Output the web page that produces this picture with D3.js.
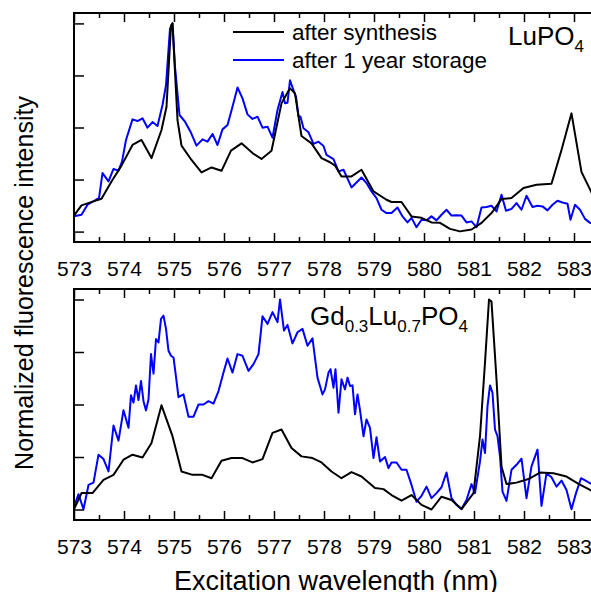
<!DOCTYPE html>
<html>
<head>
<meta charset="utf-8">
<script src="https://cdn.jsdelivr.net/npm/d3@7"></script>
<style>
  body { margin: 0; background: #fff; }
  svg { display: block; font-family: "Liberation Sans", Arial, sans-serif; }
</style>
</head>
<body>
<div class="container"></div>
<script>
// LuPO4, after synthesis (black)
const topSynthX = [573.0, 573.15, 573.39, 573.55, 573.75, 573.95, 574.17, 574.35, 574.55, 574.75, 574.85, 574.94, 574.97, 575.07, 575.15, 575.35, 575.55, 575.75, 575.95, 576.14, 576.35, 576.57, 576.75, 576.95, 577.15, 577.32, 577.42, 577.55, 577.75, 577.95, 578.12, 578.22, 578.35, 578.55, 578.75, 578.99, 579.25, 579.35, 579.55, 579.75, 579.95, 580.15, 580.32, 580.52, 580.72, 580.95, 581.15, 581.35, 581.55, 581.75, 581.99, 582.25, 582.55, 582.75, 582.95, 583.15, 583.34, 583.5];
const topSynthY = [0.077, 0.126, 0.145, 0.158, 0.241, 0.317, 0.416, 0.440, 0.353, 0.488, 0.600, 0.990, 1.0, 0.536, 0.413, 0.344, 0.284, 0.308, 0.292, 0.389, 0.424, 0.377, 0.349, 0.388, 0.616, 0.688, 0.664, 0.459, 0.424, 0.353, 0.333, 0.317, 0.265, 0.265, 0.297, 0.193, 0.153, 0.142, 0.142, 0.073, 0.066, 0.044, 0.042, 0.013, 0.001, 0.010, 0.042, 0.089, 0.156, 0.161, 0.209, 0.225, 0.230, 0.392, 0.568, 0.286, 0.193, 0.12];

// LuPO4, after 1 year storage (blue)
const topStoreX = [573.0, 573.15, 573.27, 573.44, 573.5, 573.57, 573.69, 573.79, 573.89, 573.96, 574.04, 574.17, 574.27, 574.37, 574.47, 574.57, 574.67, 574.77, 574.84, 574.92, 574.97, 575.02, 575.11, 575.22, 575.33, 575.45, 575.57, 575.67, 575.77, 575.87, 575.97, 576.07, 576.17, 576.27, 576.37, 576.47, 576.57, 576.67, 576.77, 576.87, 576.97, 577.07, 577.17, 577.22, 577.27, 577.32, 577.39, 577.44, 577.49, 577.53, 577.59, 577.69, 577.79, 577.89, 577.99, 578.05, 578.19, 578.29, 578.39, 578.55, 578.75, 578.85, 578.95, 579.05, 579.15, 579.25, 579.35, 579.47, 579.57, 579.67, 579.75, 579.85, 579.95, 580.05, 580.15, 580.25, 580.35, 580.45, 580.55, 580.65, 580.75, 580.85, 580.95, 581.05, 581.15, 581.25, 581.35, 581.45, 581.55, 581.64, 581.75, 581.85, 581.95, 582.05, 582.17, 582.27, 582.37, 582.47, 582.57, 582.67, 582.77, 582.87, 582.93, 583.02, 583.12, 583.22, 583.32, 583.5];
const topStoreY = [0.073, 0.081, 0.129, 0.153, 0.161, 0.281, 0.241, 0.301, 0.293, 0.336, 0.440, 0.539, 0.531, 0.544, 0.499, 0.526, 0.507, 0.608, 0.703, 0.975, 1.0, 0.791, 0.560, 0.528, 0.480, 0.413, 0.443, 0.432, 0.469, 0.416, 0.491, 0.512, 0.600, 0.692, 0.640, 0.563, 0.541, 0.552, 0.499, 0.504, 0.451, 0.584, 0.671, 0.616, 0.619, 0.727, 0.679, 0.647, 0.555, 0.552, 0.496, 0.477, 0.421, 0.432, 0.411, 0.368, 0.348, 0.289, 0.297, 0.212, 0.260, 0.233, 0.193, 0.161, 0.105, 0.089, 0.089, 0.116, 0.073, 0.044, 0.066, 0.021, 0.057, 0.054, 0.073, 0.054, 0.081, 0.105, 0.077, 0.078, 0.077, 0.044, 0.049, 0.021, 0.116, 0.118, 0.124, 0.097, 0.177, 0.100, 0.109, 0.137, 0.105, 0.172, 0.118, 0.124, 0.121, 0.102, 0.129, 0.148, 0.140, 0.134, 0.057, 0.129, 0.105, 0.061, 0.042, 0.04];

// Gd0.3Lu0.7PO4, after synthesis (black)
const botSynthX = [573.0, 573.15, 573.37, 573.59, 573.79, 573.99, 574.17, 574.37, 574.55, 574.75, 574.97, 575.15, 575.37, 575.57, 575.75, 575.95, 576.15, 576.37, 576.57, 576.77, 576.97, 577.15, 577.35, 577.55, 577.77, 577.95, 578.15, 578.35, 578.55, 578.75, 579.02, 579.19, 579.35, 579.55, 579.75, 579.95, 580.15, 580.35, 580.55, 580.75, 580.99, 581.12, 581.22, 581.3, 581.35, 581.45, 581.55, 581.65, 581.85, 582.09, 582.32, 582.59, 582.85, 583.09, 583.32, 583.5];
const botSynthY = [0.001, 0.078, 0.078, 0.141, 0.165, 0.237, 0.261, 0.248, 0.317, 0.496, 0.349, 0.181, 0.165, 0.165, 0.149, 0.232, 0.245, 0.245, 0.224, 0.240, 0.365, 0.381, 0.293, 0.253, 0.245, 0.224, 0.181, 0.149, 0.178, 0.157, 0.102, 0.097, 0.069, 0.042, 0.069, 0.022, 0.0, 0.061, 0.045, 0.002, 0.078, 0.349, 0.700, 1.0, 0.99, 0.620, 0.205, 0.121, 0.128, 0.145, 0.176, 0.173, 0.157, 0.122, 0.093, 0.075];

// Gd0.3Lu0.7PO4, after 1 year storage (blue)
const botStoreX = [573.0, 573.09, 573.19, 573.29, 573.39, 573.49, 573.59, 573.69, 573.79, 573.89, 573.99, 574.09, 574.14, 574.19, 574.24, 574.29, 574.34, 574.39, 574.44, 574.49, 574.54, 574.59, 574.64, 574.69, 574.74, 574.79, 574.84, 574.89, 574.94, 574.99, 575.04, 575.09, 575.19, 575.29, 575.39, 575.49, 575.59, 575.69, 575.79, 575.89, 575.99, 576.07, 576.17, 576.27, 576.37, 576.49, 576.59, 576.69, 576.77, 576.87, 576.97, 577.07, 577.12, 577.2, 577.27, 577.37, 577.47, 577.57, 577.67, 577.77, 577.87, 577.97, 578.02, 578.09, 578.13, 578.19, 578.23, 578.29, 578.35, 578.42, 578.47, 578.52, 578.57, 578.62, 578.67, 578.72, 578.79, 578.85, 578.92, 578.99, 579.05, 579.12, 579.22, 579.29, 579.35, 579.45, 579.55, 579.65, 579.75, 579.85, 579.95, 580.05, 580.15, 580.25, 580.35, 580.45, 580.55, 580.65, 580.75, 580.85, 580.95, 581.02, 581.12, 581.17, 581.22, 581.27, 581.32, 581.37, 581.42, 581.47, 581.52, 581.57, 581.65, 581.75, 581.85, 581.95, 582.05, 582.15, 582.27, 582.35, 582.45, 582.55, 582.65, 582.75, 582.85, 582.95, 583.04, 583.14, 583.24, 583.32, 583.5];
const botStoreY = [0.013, 0.073, 0.001, 0.117, 0.128, 0.261, 0.240, 0.181, 0.400, 0.328, 0.473, 0.389, 0.544, 0.509, 0.591, 0.521, 0.612, 0.516, 0.472, 0.524, 0.740, 0.647, 0.812, 0.796, 0.908, 0.923, 0.860, 0.756, 0.732, 0.724, 0.631, 0.535, 0.548, 0.442, 0.442, 0.500, 0.500, 0.516, 0.504, 0.564, 0.652, 0.719, 0.652, 0.740, 0.732, 0.660, 0.692, 0.740, 0.920, 0.884, 0.940, 0.892, 1.0, 0.852, 0.879, 0.791, 0.844, 0.860, 0.780, 0.815, 0.628, 0.548, 0.572, 0.652, 0.668, 0.580, 0.668, 0.461, 0.620, 0.572, 0.628, 0.588, 0.591, 0.453, 0.548, 0.473, 0.349, 0.429, 0.389, 0.245, 0.344, 0.229, 0.250, 0.197, 0.224, 0.224, 0.189, 0.189, 0.117, 0.037, 0.065, 0.109, 0.054, 0.078, 0.106, 0.176, 0.054, 0.022, 0.002, 0.045, 0.121, 0.078, 0.229, 0.333, 0.269, 0.492, 0.591, 0.556, 0.381, 0.349, 0.253, 0.085, 0.041, 0.189, 0.213, 0.242, 0.054, 0.205, 0.285, 0.017, 0.173, 0.154, 0.109, 0.138, 0.093, 0.001, 0.078, 0.149, 0.136, 0.125, 0.11];

const xMajor = [573, 574, 575, 576, 577, 578, 579, 580, 581, 582, 583];
const xMinor = [573.5, 574.5, 575.5, 576.5, 577.5, 578.5, 579.5, 580.5, 581.5, 582.5, 583.5];
const yTicks = [0, 0.25, 0.5, 0.75, 1];
const seriesNames = ["after synthesis", "after 1 year storage"];
const seriesColors = ["#000000", "#0000ff"];

const WIDTH = 591, HEIGHT = 592;
const LEFT = 74, RIGHT = 599;
const PANELS = [
  { top: 13, bottom: 242, synth: [topSynthX, topSynthY], store: [topStoreX, topStoreY] },
  { top: 289, bottom: 520, synth: [botSynthX, botSynthY], store: [botStoreX, botStoreY] }
];

const xScale = d3.scaleLinear().domain([573, 583.5]).range([LEFT, RIGHT]);

const svg = d3.select(".container")
  .append("svg")
  .attr("width", WIDTH)
  .attr("height", HEIGHT)
  .attr("viewBox", [0, 0, WIDTH, HEIGHT]);

const zip = (xs, ys) => xs.map((x, i) => [x, ys[i]]);

PANELS.forEach((p, idx) => {
  const yScale = d3.scaleLinear().domain([-0.05, 1.05]).range([p.bottom, p.top]);
  const g = svg.append("g");

  const clipId = `clip${idx}`;
  g.append("clipPath").attr("id", clipId)
    .append("rect")
    .attr("x", LEFT).attr("y", p.top)
    .attr("width", RIGHT - LEFT).attr("height", p.bottom - p.top);

  // curves: storage first, synthesis on top
  const line = d3.line().x(d => xScale(d[0])).y(d => yScale(d[1]));
  g.append("g")
    .attr("clip-path", `url(#${clipId})`)
    .attr("fill", "none")
    .attr("stroke-width", 2)
    .attr("stroke-linejoin", "round")
    .selectAll("path")
    .data([zip(...p.store), zip(...p.synth)])
    .join("path")
    .attr("stroke", (d, i) => i === 0 ? seriesColors[1] : seriesColors[0])
    .attr("d", line);

  // axes with inward ticks
  const clean = sel => { sel.select(".domain").remove(); sel.selectAll("line").attr("stroke-width", 1.5); };

  g.append("g")
    .attr("transform", `translate(0,${p.bottom})`)
    .call(d3.axisBottom(xScale).tickValues(xMajor).tickSize(-9).tickPadding(19).tickFormat(d3.format("d")))
    .call(clean)
    .call(s => s.selectAll("text").attr("font-size", 21).attr("fill", "#000").attr("font-family", "Liberation Sans, Arial, sans-serif"));
  g.append("g")
    .attr("transform", `translate(0,${p.bottom})`)
    .call(d3.axisBottom(xScale).tickValues(xMinor).tickSize(-5).tickFormat(""))
    .call(clean);
  g.append("g")
    .attr("transform", `translate(0,${p.top})`)
    .call(d3.axisTop(xScale).tickValues(xMajor).tickSize(-9).tickFormat(""))
    .call(clean);
  g.append("g")
    .attr("transform", `translate(0,${p.top})`)
    .call(d3.axisTop(xScale).tickValues(xMinor).tickSize(-5).tickFormat(""))
    .call(clean);
  g.append("g")
    .attr("transform", `translate(${LEFT},0)`)
    .call(d3.axisLeft(yScale).tickValues(yTicks).tickSize(-10).tickFormat(""))
    .call(clean);

  // frame
  g.append("rect")
    .attr("x", LEFT).attr("y", p.top)
    .attr("width", RIGHT - LEFT).attr("height", p.bottom - p.top)
    .attr("fill", "none").attr("stroke", "#000").attr("stroke-width", 2);
});

// legend
const legend = svg.append("g");
seriesNames.forEach((name, i) => {
  const y = 32 + i * 28;
  legend.append("line")
    .attr("x1", 233).attr("x2", 284).attr("y1", y).attr("y2", y)
    .attr("stroke", seriesColors[i]).attr("stroke-width", 2);
  legend.append("text")
    .attr("x", 292).attr("y", y + 8)
    .attr("font-size", 22.5)
    .text(name);
});

// panel labels with subscripts
function formula(x, y, parts) {
  const t = svg.append("text").attr("x", x).attr("y", y).attr("font-size", 26);
  let shift = 0;
  parts.forEach(([txt, sub]) => {
    const target = sub ? 7 : 0;
    t.append("tspan")
      .attr("font-size", sub ? 17 : 26)
      .attr("dy", target - shift)
      .text(txt);
    shift = target;
  });
}
formula(508, 45, [["LuPO"], ["4", true]]);
formula(310, 325, [["Gd"], ["0.3", true], ["Lu"], ["0.7", true], ["PO"], ["4", true]]);

// axis titles
svg.append("text")
  .attr("x", 336).attr("y", 590)
  .attr("text-anchor", "middle")
  .attr("font-size", 27)
  .text("Excitation wavelength (nm)");
svg.append("text")
  .attr("transform", "translate(33,283) rotate(-90)")
  .attr("text-anchor", "middle")
  .attr("font-size", 25)
  .text("Normalized fluorescence intensity");
</script>
</body>
</html>
